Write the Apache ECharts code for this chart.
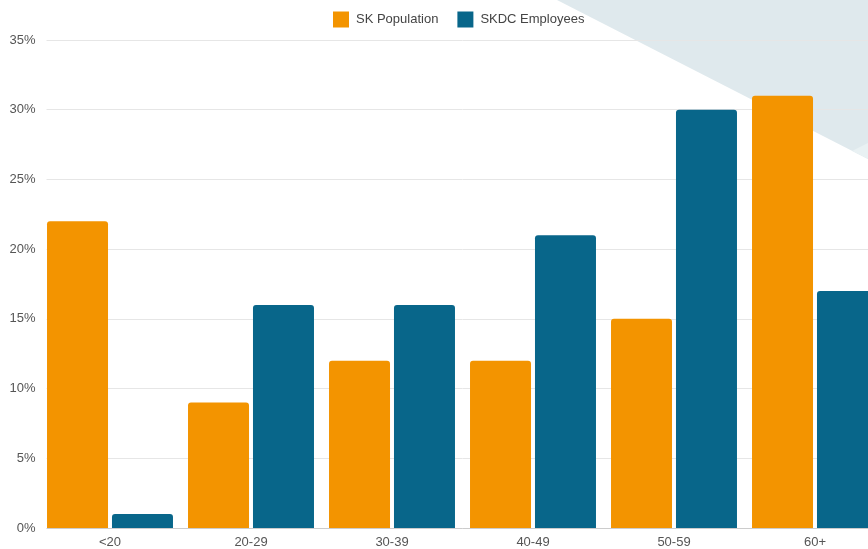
<!DOCTYPE html>
<html>
<head>
<meta charset="utf-8">
<script src="https://cdn.jsdelivr.net/npm/echarts@6/dist/echarts.min.js"></script>
<style>
html,body{margin:0;padding:0;background:#fff;overflow:hidden;width:868px;height:549px;}
#chart{width:900px;height:549px;}
</style>
</head>
<body>
<div id="chart"></div>
<script>
var categories = ['<20', '20-29', '30-39', '40-49', '50-59', '60+'];
var skPopulation = [22, 9, 12, 12, 15, 31];
var skdcEmployees = [1, 16, 16, 21, 30, 17];
var yTicks = [0, 5, 10, 15, 20, 25, 30, 35];

var chart = echarts.init(document.getElementById('chart'));
var FONT = '"Liberation Sans", Arial, Helvetica, sans-serif';
chart.setOption({
  animation: false,
  textStyle: { fontFamily: FONT },
  graphic: [
    { type: 'polygon', z: 0, silent: true,
      shape: { points: [[557, 0], [900, 0], [900, 175], [868, 159]] },
      style: { fill: '#dfe9ed' } },
    { type: 'polygon', z: 0, silent: true,
      shape: { points: [[852, 151], [868, 143], [868, 159]] },
      style: { fill: '#e9f1f3' } },
    { type: 'rect', z: 3, silent: true,
      shape: { x: 38, y: 30, width: 8.5, height: 505 },
      style: { fill: '#ffffff' } }
  ],
  legend: {
    left: 333, top: 11.5, padding: 0,
    itemWidth: 16, itemHeight: 16, itemGap: 19,
    icon: 'rect',
    textStyle: { fontSize: 13, color: '#444', fontFamily: FONT, padding: [0, 0, 0, 2] },
    data: ['SK Population', 'SKDC Employees']
  },
  grid: { left: 39.5, top: 40, width: 846, height: 490, containLabel: false },
  xAxis: {
    type: 'category', data: categories, z: 2,
    axisLine: { lineStyle: { color: '#cccccc', width: 1 } },
    axisTick: { show: false },
    axisLabel: { color: '#555', fontSize: 13, margin: 8, fontFamily: FONT },
    splitLine: { show: false }
  },
  yAxis: {
    type: 'value', min: yTicks[0], max: yTicks[yTicks.length - 1], interval: 5, z: 2,
    axisLine: { show: false }, axisTick: { show: false },
    axisLabel: { color: '#555', fontSize: 13, margin: 4, formatter: '{value}%', fontFamily: FONT },
    splitLine: { lineStyle: { color: '#e6e6e6', width: 1 } }
  },
  series: [
    { name: 'SK Population', type: 'bar', data: skPopulation, z: 4,
      barWidth: 61, barGap: '6.5%',
      itemStyle: { color: '#f39400', borderRadius: [3, 3, 0, 0] } },
    { name: 'SKDC Employees', type: 'bar', data: skdcEmployees, z: 4,
      barWidth: 61, barGap: '6.5%',
      itemStyle: { color: '#08668a', borderRadius: [3, 3, 0, 0] } }
  ]
});
</script>
</body>
</html>
